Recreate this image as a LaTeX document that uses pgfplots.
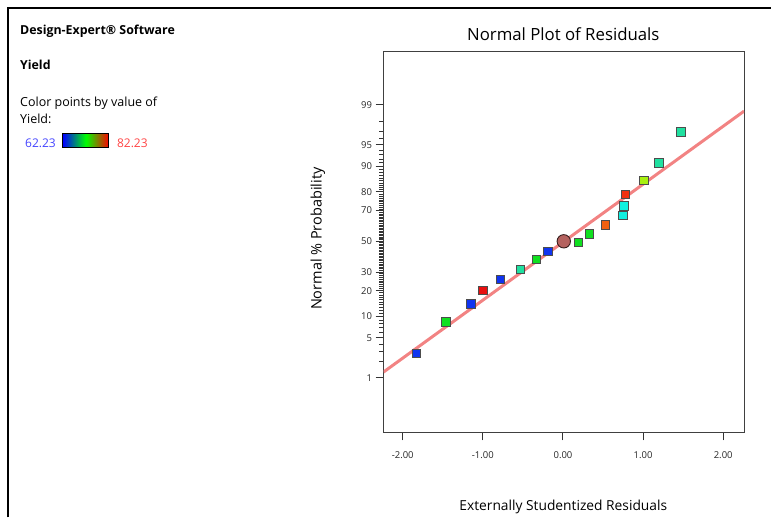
\documentclass[border=0pt]{standalone}
\usepackage{fontspec}
\setmainfont{Open Sans}
\usepackage{pgfplots}
\pgfplotsset{compat=1.18}
\definecolor{fitline}{HTML}{F28383}
\definecolor{pblue}{HTML}{1034F0}
\definecolor{pgreen}{HTML}{10E020}
\definecolor{pred}{HTML}{E81010}
\definecolor{paqua}{HTML}{20E0A0}
\definecolor{porange}{HTML}{F06010}
\definecolor{pcyan}{HTML}{10F0E0}
\definecolor{porred}{HTML}{F03010}
\definecolor{pyel}{HTML}{A8F010}
\definecolor{pcirc}{HTML}{B5625F}
\definecolor{lowtxt}{HTML}{4444FF}
\definecolor{hightxt}{HTML}{FF4444}

\begin{document}
\begin{tikzpicture}[x=1pt,y=1pt]
\path (0,0) rectangle (772,518);
\draw[line width=2pt] (8,0) -- (8,510) -- (772,510);

% left side panel
\node[anchor=base west,inner sep=0,font=\bfseries\fontsize{12.4}{14}\selectfont] at (20,483) {Design-Expert® Software};
\node[anchor=base west,inner sep=0,font=\bfseries\fontsize{12.4}{14}\selectfont] at (20,448) {Yield};
\node[anchor=base west,inner sep=0,font=\fontsize{12.5}{14}\selectfont] at (20,411) {Color points by value of};
\node[anchor=base west,inner sep=0,font=\fontsize{12.5}{14}\selectfont] at (20,394) {Yield:};
\node[anchor=base west,inner sep=0,font=\fontsize{12}{14}\selectfont,text=lowtxt] at (25,370) {62.23};
\shade[left color=blue,right color=red,middle color=green] (63,370) rectangle (109,384);
\draw[black,line width=1pt] (63,370) rectangle (109,384);
\node[anchor=base west,inner sep=0,font=\fontsize{12}{14}\selectfont,text=hightxt] at (117,370) {82.23};

% titles
\node[anchor=base,inner sep=0,font=\fontsize{16.8}{19}\selectfont] at (564,477) {Normal Plot of Residuals};
\node[anchor=base,inner sep=0,font=\fontsize{13.8}{16}\selectfont] at (564,7) {Externally Studentized Residuals};
\node[anchor=base,inner sep=0,rotate=90,font=\fontsize{14.5}{16}\selectfont] at (322,279) {Normal \% Probability};

\begin{axis}[
  at={(384pt,85pt)},anchor=south west,
  scale only axis,width=361pt,height=381pt,
  xmin=-2.24,xmax=2.26,ymin=-3.26,ymax=3.23,
  axis line style={black!75,line width=1pt},
  tick pos=left,tick align=outside,
  major tick length=8pt,minor tick length=4.5pt,
  every tick/.style={black!80,line width=1pt},
  minor tick style={black!80,line width=0.7pt},
  xtick={-2,-1,0,1,2},
  xticklabels={-2.00,-1.00,0.00,1.00,2.00},
  ytick={-2.3263,-1.6449,-1.2816,-0.8416,-0.5244,0,0.5244,0.8416,1.2816,1.6449,2.3263},
  yticklabels={1,5,10,20,30,50,70,80,90,95,99},
  minor ytick={-2.0537,-1.8808,-1.7507,-1.5548,-1.4758,-1.4051,-1.3408,-1.2265,-1.1750,-1.1264,-1.0803,-1.0364,-0.9945,-0.9542,-0.9154,-0.8779,-0.8064,-0.7722,-0.7388,-0.7063,-0.6745,-0.6433,-0.6128,-0.5828,-0.5534,-0.4959,-0.4677,-0.4399,-0.4125,-0.3853,-0.3585,-0.3319,-0.3055,-0.2793,-0.2533,-0.2275,-0.2019,-0.1764,-0.1510,-0.1257,-0.1004,-0.0753,-0.0502,-0.0251,
    0.0251,0.0502,0.0753,0.1004,0.1257,0.1510,0.1764,0.2019,0.2275,0.2533,0.2793,0.3055,0.3319,0.3585,0.3853,0.4125,0.4399,0.4677,0.4959,0.5534,0.5828,0.6128,0.6433,0.6745,0.7063,0.7388,0.7722,0.8064,0.8779,0.9154,0.9542,0.9945,1.0364,1.0803,1.1264,1.1750,1.2265,1.3408,1.4051,1.4758,1.5548,1.7507,1.8808,2.0537},
  tick label style={font=\fontsize{9.5}{11}\selectfont,text=black!85},
  xticklabel style={yshift=-8pt},
  sq/.style={only marks,mark=square*,mark size=4.3pt,mark options={draw=black!70,line width=0.8pt,fill=#1}},
]
\addplot[fitline,line width=3pt] coordinates {(-2.24,-2.23) (2.26,2.22)};
\addplot[sq=pblue] coordinates {(-1.83,-1.91) (-1.15,-1.07) (-0.78,-0.65) (-0.19,-0.17)};
\addplot[sq=pgreen] coordinates {(-1.46,-1.37) (-0.33,-0.31) (0.19,-0.02) (0.33,0.13)};
\addplot[sq=pred] coordinates {(-1.00,-0.84)};
\addplot[sq=paqua] coordinates {(-0.53,-0.48) (1.20,1.34) (1.47,1.87)};
\addplot[sq=porange] coordinates {(0.53,0.28)};
\addplot[sq=pcyan] coordinates {(0.75,0.44) (0.76,0.60)};
\addplot[sq=porred] coordinates {(0.78,0.80)};
\addplot[sq=pyel] coordinates {(1.01,1.04)};
\addplot[only marks,mark=*,mark size=6.7pt,mark options={draw=black!70!pcirc,line width=0.9pt,fill=pcirc}] coordinates {(0.01,0.00)};
\end{axis}
\end{tikzpicture}
\end{document}
